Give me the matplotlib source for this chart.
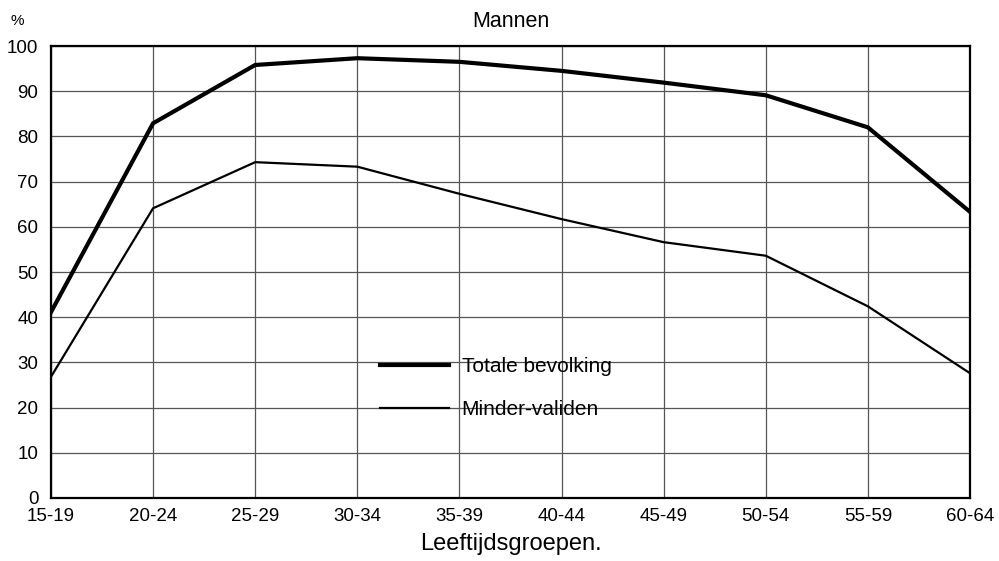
import matplotlib
matplotlib.use("Agg")
import matplotlib.pyplot as plt

# leeftijdsgroepen en percentages (mannen)
groepen = ["15-19", "20-24", "25-29", "30-34", "35-39", "40-44", "45-49", "50-54", "55-59", "60-64"]
totale_bevolking = [41.1, 82.9, 95.8, 97.3, 96.5, 94.5, 91.9, 89.1, 82.0, 63.3]
minder_validen = [26.8, 64.1, 74.3, 73.3, 67.3, 61.7, 56.6, 53.6, 42.4, 27.6]
y_ticks = [0, 10, 20, 30, 40, 50, 60, 70, 80, 90, 100]

plt.rcParams['font.family'] = ['Liberation Sans', 'DejaVu Sans']

fig = plt.figure(figsize=(9.99, 5.61), dpi=100)
ax = fig.add_axes([0.051, 0.1123, 0.92, 0.8057])

x = list(range(len(groepen)))
ax.plot(x, totale_bevolking, color='black', lw=3.0, solid_joinstyle='miter', label='Totale bevolking', zorder=3)
ax.plot(x, minder_validen, color='black', lw=1.6, solid_joinstyle='miter', label='Minder-validen', zorder=3)

ax.set_xlim(0, len(groepen) - 1)
ax.set_ylim(0, 100)
ax.set_xticks(x)
ax.set_xticklabels(groepen, fontsize=13.5)
ax.set_yticks(y_ticks)
ax.set_yticklabels([str(v) for v in y_ticks], fontsize=13.5)
ax.tick_params(length=0, pad=9)
ax.tick_params(axis='x', pad=7)

ax.grid(True, color='#555555', lw=0.9)
ax.set_axisbelow(True)
for s in ax.spines.values():
    s.set_linewidth(1.6)
    s.set_color('black')

ax.set_title("Mannen", fontsize=15.5, pad=14)
ax.set_xlabel("Leeftijdsgroepen.", fontsize=17, labelpad=6)
fig.text(0.011, 0.955, "%", fontsize=11)

leg = ax.legend(loc='upper left', bbox_to_anchor=(0.3585, 0.312), frameon=False,
                fontsize=15, handlelength=3.3, handletextpad=0.6,
                labelspacing=1.15, borderpad=0, borderaxespad=0)

fig.savefig("out.png", dpi=100)
